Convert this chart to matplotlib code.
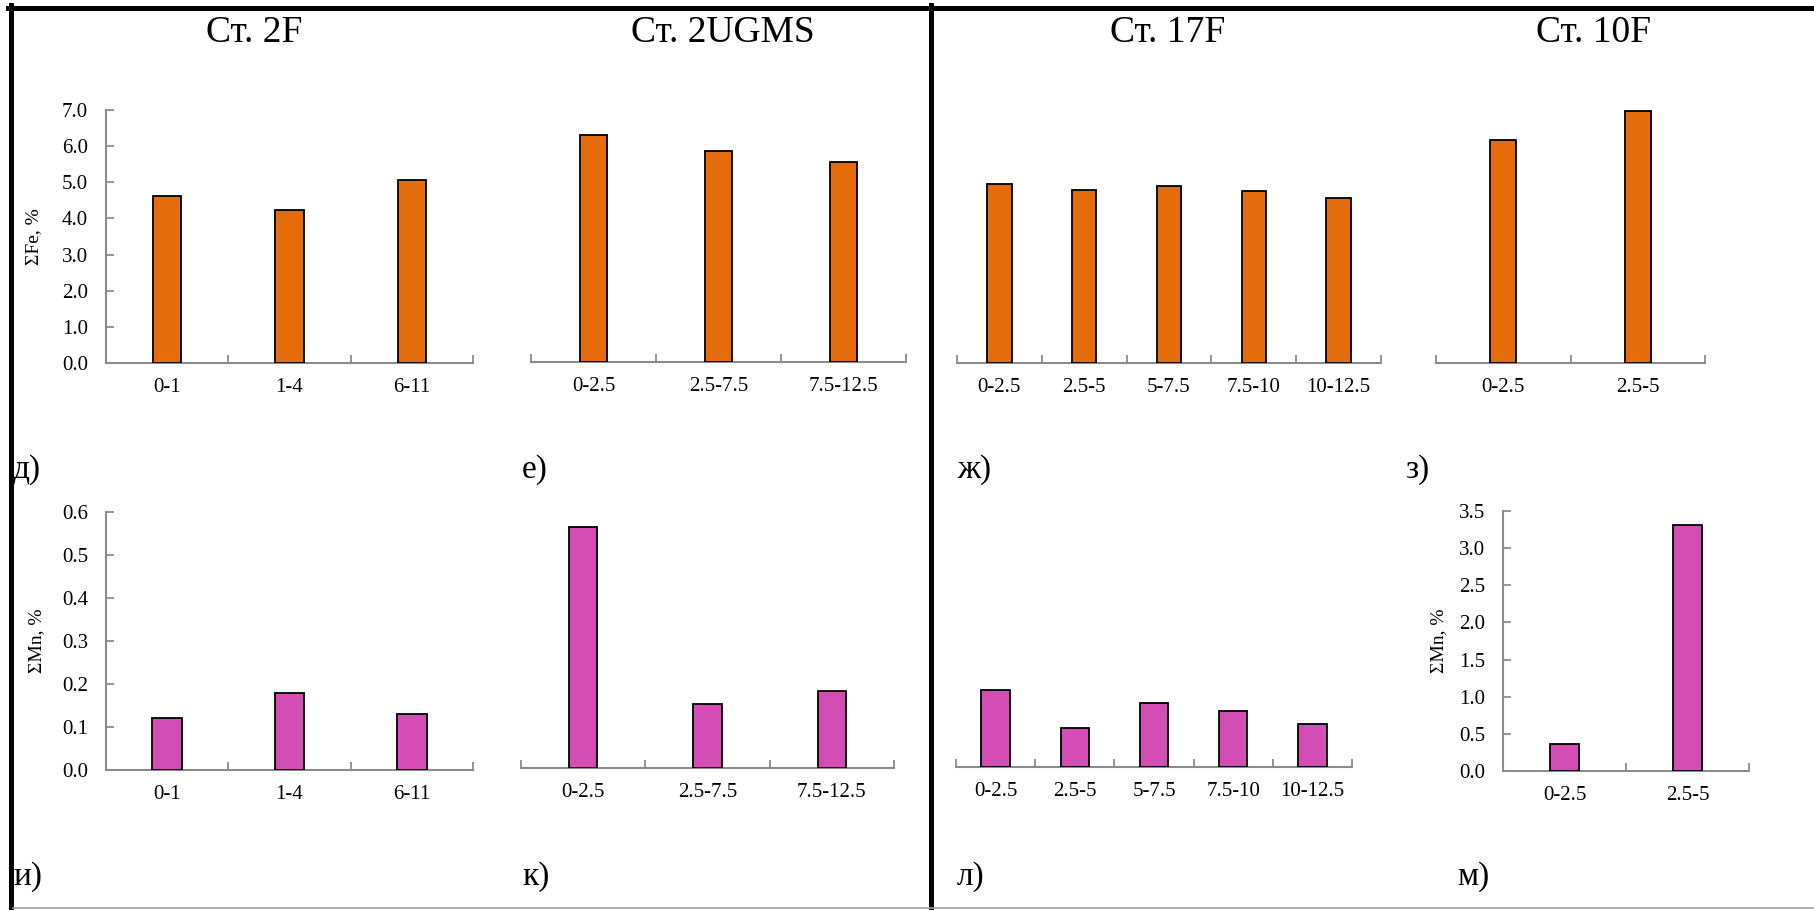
import matplotlib
matplotlib.use("Agg")
import matplotlib.pyplot as plt
from matplotlib.lines import Line2D
from matplotlib.ticker import FixedLocator, FormatStrFormatter

plt.rcParams['font.family'] = ['Liberation Serif', 'DejaVu Serif']

# station names and sampling depth intervals (cm)
stations = ['Ст. 2F', 'Ст. 2UGMS', 'Ст. 17F', 'Ст. 10F']
depths_2F = ['0-1', '1-4', '6-11']
depths_2UGMS = ['0-2.5', '2.5-7.5', '7.5-12.5']
depths_17F = ['0-2.5', '2.5-5', '5-7.5', '7.5-10', '10-12.5']
depths_10F = ['0-2.5', '2.5-5']

# total Fe, %
fe_2F = [4.63, 4.22, 5.06]
fe_2UGMS = [6.29, 5.83, 5.53]
fe_17F = [4.94, 4.80, 4.89, 4.77, 4.57]
fe_10F = [6.16, 6.98]

# total Mn, %
mn_2F = [0.12, 0.18, 0.13]
mn_2UGMS = [0.56, 0.15, 0.18]
mn_17F = [0.18, 0.09, 0.15, 0.13, 0.10]
mn_10F = [0.37, 3.31]

panel_letters_top = ['д)', 'е)', 'ж)', 'з)']
panel_letters_bottom = ['и)', 'к)', 'л)', 'м)']

ORANGE = '#E46C0A'
MAGENTA = '#D44DB4'
GREY = '#8C8C8C'

W, H = 1814, 910
fig = plt.figure(figsize=(W / 100, H / 100), dpi=100)


def px(x0, y0, x1, y1):
    # pixel box (from top-left) -> figure fraction rect
    return [x0 / W, 1 - y1 / H, (x1 - x0) / W, (y1 - y0) / H]


def bar_panel(rect, labels, values, color, ymax, ystep, width,
              show_y=False, ylabel=None, ylabel_x=-0.2):
    ax = fig.add_axes(rect)
    x = list(range(len(labels)))
    ax.bar(x, values, width=width, color=color, edgecolor='black',
           linewidth=1.3, zorder=3)
    ax.set_xlim(-0.5, len(labels) - 0.5)
    ax.set_ylim(0, ymax)
    for s in ['top', 'right']:
        ax.spines[s].set_visible(False)
    ax.spines['bottom'].set_color(GREY)
    ax.spines['bottom'].set_linewidth(1.5)
    ax.set_xticks(x)
    ax.set_xticklabels(labels)
    ax.xaxis.set_minor_locator(FixedLocator([i - 0.5 for i in range(len(labels) + 1)]))
    ax.tick_params(axis='x', which='major', length=0, pad=11, labelsize=15)
    ax.tick_params(axis='x', which='minor', direction='in', length=6,
                   width=1.3, color=GREY)
    if show_y:
        ax.spines['left'].set_color(GREY)
        ax.spines['left'].set_linewidth(1.5)
        n = int(round(ymax / ystep))
        ax.set_yticks([i * ystep for i in range(n + 1)])
        ax.yaxis.set_major_formatter(FormatStrFormatter('%.1f'))
        ax.tick_params(axis='y', direction='in', length=6, width=1.3,
                       color=GREY, pad=13, labelsize=15)
        if ylabel:
            ax.set_ylabel(ylabel, fontsize=14)
            ax.yaxis.set_label_coords(ylabel_x, 0.5)
    else:
        ax.spines['left'].set_visible(False)
        ax.set_yticks([])
    return ax


# top row: Fe
bar_panel(px(106, 110, 473, 363), depths_2F, fe_2F, ORANGE, 7, 1, 0.23,
          show_y=True, ylabel='ΣFe, %', ylabel_x=-0.174)
bar_panel(px(531, 109, 906, 362), depths_2UGMS, fe_2UGMS, ORANGE, 7, 1, 0.22)
bar_panel(px(957, 110, 1381, 363), depths_17F, fe_17F, ORANGE, 7, 1, 0.29)
bar_panel(px(1436, 110, 1705, 363), depths_10F, fe_10F, ORANGE, 7, 1, 0.19)

# bottom row: Mn
bar_panel(px(106, 512, 473, 770), depths_2F, mn_2F, MAGENTA, 0.6, 0.1, 0.24,
          show_y=True, ylabel='ΣMn, %', ylabel_x=-0.166)
bar_panel(px(521, 510, 894, 768), depths_2UGMS, mn_2UGMS, MAGENTA, 0.6, 0.1, 0.23)
bar_panel(px(956, 509, 1352, 767), depths_17F, mn_17F, MAGENTA, 0.6, 0.1, 0.36)
bar_panel(px(1503, 511, 1749, 771), depths_10F, mn_10F, MAGENTA, 3.5, 0.5, 0.23,
          show_y=True, ylabel='ΣMn, %', ylabel_x=-0.228)

# station titles
for name, xc in zip(stations, [254, 723, 1168, 1594]):
    fig.text(xc / W, 1 - 33 / H, name, ha='center', va='center', fontsize=27)

# panel letters
for lab, xl in zip(panel_letters_top, [13, 522, 957, 1405]):
    fig.text(xl / W, 1 - 470 / H, lab, ha='left', va='center', fontsize=24)
for lab, xl in zip(panel_letters_bottom, [13, 522, 957, 1457]):
    fig.text(xl / W, 1 - 877 / H, lab, ha='left', va='center', fontsize=24)

# frame lines
tf = fig.transFigure
fig.add_artist(Line2D([8 / W, 1], [1 - 7.5 / H, 1 - 7.5 / H], color='black', lw=3.6, transform=tf))
fig.add_artist(Line2D([10.5 / W, 10.5 / W], [0, 1 - 5 / H], color='black', lw=3.6, transform=tf))
fig.add_artist(Line2D([930.5 / W, 930.5 / W], [0, 1 - 5 / H], color='black', lw=3.6, transform=tf))
fig.add_artist(Line2D([13 / W, 1], [1 - 908 / H, 1 - 908 / H], color='#A0A0A0', lw=1.2, transform=tf))

fig.savefig('out.png', dpi=100)
